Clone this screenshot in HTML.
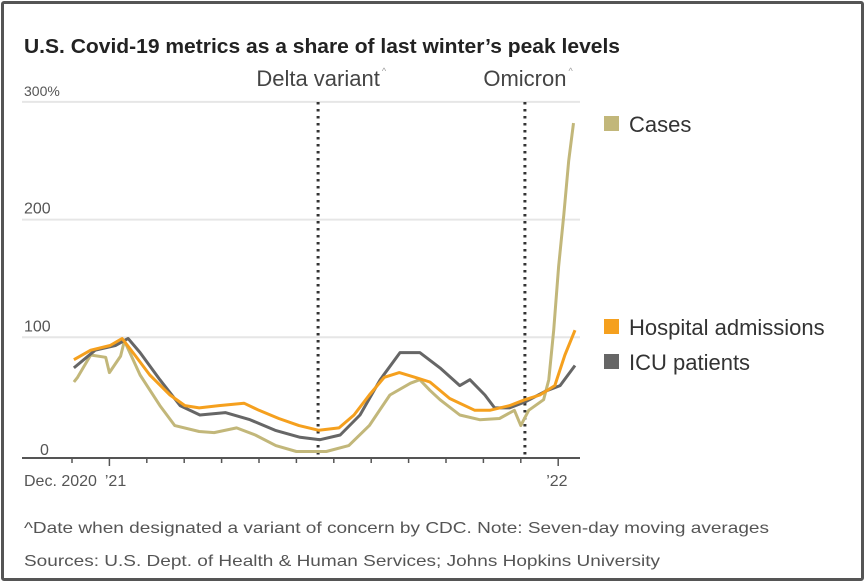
<!DOCTYPE html>
<html><head><meta charset="utf-8"><style>
html,body{margin:0;padding:0;background:#fff;width:865px;height:581px;overflow:hidden}
#frame{position:absolute;left:1px;top:1px;width:857px;height:574px;border:3px solid #555;border-radius:3px;background:#fff}
svg{position:absolute;left:0;top:0}
text{font-family:"Liberation Sans Narrow","Liberation Sans",sans-serif}
</style></head><body>
<div id="frame"></div>
<svg id="chart" width="865" height="581">
<text x="24" y="53" font-size="20" font-weight="bold" fill="#222" textLength="596" lengthAdjust="spacingAndGlyphs">U.S. Covid-19 metrics as a share of last winter’s peak levels</text>
<text x="24" y="533" font-size="16" fill="#555" textLength="745" lengthAdjust="spacingAndGlyphs">^Date when designated a variant of concern by CDC. Note: Seven-day moving averages</text>
<text x="24" y="566" font-size="16" fill="#555" textLength="636" lengthAdjust="spacingAndGlyphs">Sources: U.S. Dept. of Health &amp; Human Services; Johns Hopkins University</text>
<g id="plot"></g>
</svg>
<script>
const yTicks=[0,100,200,300];
const yTickLabels=["0","100","200","300%"];
const xTickMonths=[0,1,2,3,4,5,6,7,8,9,10,11,12,13];
const xLabels=[{m:0,t:"Dec. 2020"},{m:1.2,t:"’21"},{m:13,t:"’22"}];
const events=[{m:6.58,t:"Delta variant"},{m:12.11,t:"Omicron"}];
const casesM=[0.05,0.15,0.5,0.9,1.0,1.3,1.4,1.82,2.35,2.75,3.4,3.8,4.4,4.9,5.45,6.0,6.8,7.4,7.95,8.5,9.05,9.3,9.57,9.84,10.37,10.9,11.43,11.83,12.0,12.21,12.61,12.75,12.88,13.01,13.15,13.28,13.41];
const casesV=[62,66,85,83,70,84,97,68,42,25,20,19,23,17,8,3,3,8,25,51,61,64,55,47,34,30,31,38,25,38,47,64,106,160,204,250,282];
const hospM=[0.05,0.5,1.02,1.34,1.68,2.08,2.62,3.02,3.4,3.93,4.6,5.0,5.53,6.07,6.6,7.14,7.54,7.95,8.35,8.75,9.17,9.57,10.1,10.77,11.17,11.7,12.11,12.51,12.91,13.18,13.45];
const hospV=[81,89,93,99,85,68,51,42,40,42,44,38,31,25,21,23,34,51,66,70,66,62,48,38,38,42,47,51,59,85,106];
const icuM=[0.05,0.62,1.16,1.5,1.82,2.35,2.89,3.42,4.1,4.76,5.43,6.1,6.63,7.17,7.7,8.24,8.77,9.3,9.84,10.37,10.64,11.04,11.3,11.7,12.11,12.65,13.05,13.45];
const icuV=[74,89,93,99,87,64,42,34,36,30,21,15,13,17,34,64,87,87,74,59,64,51,40,40,45,54,59,76];
const legend=[{t:"Cases",c:"#c2b77a",y:124},{t:"Hospital admissions",c:"#f5a01e",y:327},{t:"ICU patients",c:"#666",y:362}];
const NS="http://www.w3.org/2000/svg";
const X=m=>72+m*37.4, Y=v=>455-v*1.177;
const g=document.getElementById('plot');
function mk(tag,attrs,txt){const e=document.createElementNS(NS,tag);for(const k in attrs)e.setAttribute(k,attrs[k]);if(txt!=null)e.textContent=txt;g.appendChild(e);return e;}
yTicks.forEach((v,i)=>{
  if(v>0){const l=mk('line',{x1:22,x2:580,y1:Y(v),y2:Y(v),stroke:'#e6e6e6','stroke-width':2});
  
  }
  const t=mk('text',{x:24,y:Y(v)-(v==0?0:6),'font-size':v==300?14:16,fill:'#555'},yTickLabels[i]);
  if(v==0)t.setAttribute('x',40);
  
  
});
const ax=mk('line',{x1:22,x2:580,y1:458,y2:458,stroke:'#555','stroke-width':2});


xTickMonths.forEach(m=>{const big=(m==1||m==13);const t=mk('line',{x1:X(m),x2:X(m),y1:458,y2:big?466:463,stroke:'#555','stroke-width':1.5});

});
xLabels.forEach(o=>{const t=mk('text',{x:o.t.startsWith('Dec')?24:X(o.m)-12,y:486,'font-size':16,fill:'#555'},o.t);

});
events.forEach(ev=>{
  const l=mk('line',{x1:X(ev.m),x2:X(ev.m),y1:102,y2:458,stroke:'#333','stroke-width':3,'stroke-dasharray':'2.5,4.5'});
  
  
  const t=mk('text',{x:X(ev.m),y:86,'font-size':22,fill:'#444','text-anchor':'middle'},ev.t);
  
  
  const w=t.getComputedTextLength();
  const s=mk('text',{x:X(ev.m)+w/2+2,y:74,'font-size':9,fill:'#999'},'^');
  
  
});
function line(ms,vs,c,name){const d=ms.map((m,i)=>(i?'L':'M')+X(m).toFixed(1)+','+Y(vs[i]).toFixed(1)).join('');
const p=mk('path',{d:d,fill:'none',stroke:c,'stroke-width':3,'stroke-linejoin':'round'});

}
line(casesM,casesV,'#c2b77a','cases-line');
line(icuM,icuV,'#666','icu-line');
line(hospM,hospV,'#f5a01e','hospital-line');
legend.forEach(o=>{
  const r=mk('rect',{x:604,y:o.y-8,width:15,height:15,fill:o.c});
  
  
  const t=mk('text',{x:629,y:o.y+8,'font-size':22,fill:'#333'},o.t);
  
  
});
</script>
</body></html>
